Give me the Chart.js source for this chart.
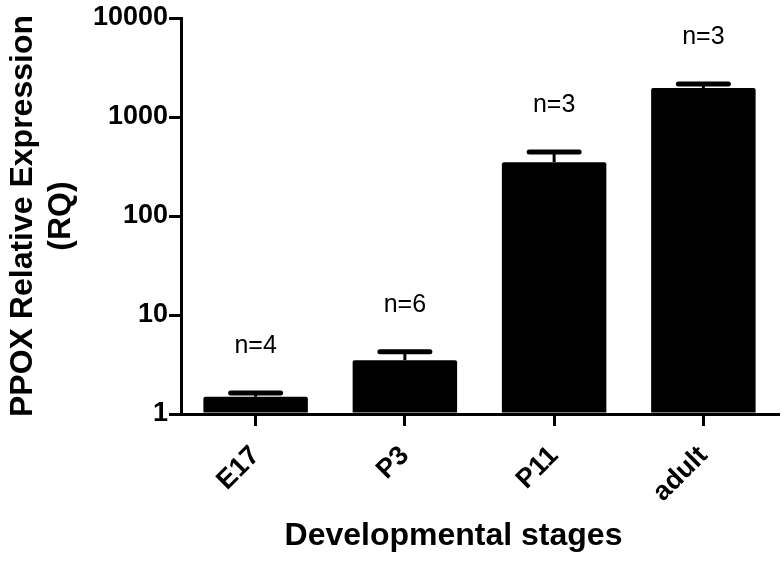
<!DOCTYPE html>
<html>
<head>
<meta charset="utf-8">
<script src="https://cdn.jsdelivr.net/npm/chart.js@4"></script>
<style>
  body { margin: 0; background: #fff; }
  #wrap { width: 784px; height: 561px; }
</style>
</head>
<body>
<div id="wrap"><canvas id="rq" width="784" height="561"></canvas></div>
<script>
const stages = ['E17', 'P3', 'P11', 'adult'];
const rq = [1.49, 3.5, 350, 1960];
const rqUpper = [1.63, 4.25, 443, 2150];
const nLabels = ['n=4', 'n=6', 'n=3', 'n=3'];
const yTicks = [1, 10, 100, 1000, 10000];
const xTitle = 'Developmental stages';

const font = "'Liberation Sans', Arial, sans-serif";

// error bars, n= labels and the x title (sits left of centre in the original)
const extras = {
  id: 'extras',
  afterDatasetsDraw(chart) {
    const ctx = chart.ctx;
    const y = chart.scales.y;
    const bars = chart.getDatasetMeta(0).data;
    ctx.save();
    ctx.strokeStyle = '#000';
    ctx.fillStyle = '#000';
    bars.forEach((bar, i) => {
      const yErr = y.getPixelForValue(rqUpper[i]);
      ctx.lineWidth = 3;
      ctx.lineCap = 'butt';
      ctx.beginPath();
      ctx.moveTo(bar.x, bar.y);
      ctx.lineTo(bar.x, yErr);
      ctx.stroke();
      ctx.lineWidth = 5;
      ctx.lineCap = 'round';
      ctx.beginPath();
      ctx.moveTo(bar.x - 25, yErr);
      ctx.lineTo(bar.x + 25, yErr);
      ctx.stroke();
      ctx.font = '25px ' + font;
      ctx.textAlign = 'center';
      ctx.textBaseline = 'middle';
      ctx.fillText(nLabels[i], bar.x, yErr - 47);
    });
    const area = chart.chartArea;
    ctx.font = 'bold 32px ' + font;
    ctx.textAlign = 'center';
    ctx.textBaseline = 'middle';
    ctx.fillText(xTitle, (area.left + area.right) / 2 - 26, 536);
    ctx.restore();
  }
};

const chart = new Chart(document.querySelector('#rq'), {
  type: 'bar',
  data: {
    labels: stages,
    datasets: [{
      data: rq,
      base: 1,
      backgroundColor: '#000',
      borderWidth: 0,
      borderRadius: 2,
      borderSkipped: 'bottom',
      barPercentage: 0.7,
      categoryPercentage: 1
    }]
  },
  options: {
    responsive: false,
    animation: false,
    layout: { padding: { top: 18, right: 6, left: 0, bottom: 0 } },
    plugins: { legend: { display: false }, tooltip: { enabled: false } },
    scales: {
      x: {
        grid: { display: true, drawOnChartArea: false, offset: false, color: '#000', lineWidth: 3, tickLength: 12 },
        border: { display: true, color: '#000', width: 3 },
        ticks: { color: '#000', font: { family: font, size: 27, weight: 'bold' }, minRotation: 45, maxRotation: 45, padding: 14 },
        afterFit(scale) { scale.height = 147; }
      },
      y: {
        type: 'logarithmic',
        min: 1,
        max: 10000,
        afterBuildTicks(scale) { scale.ticks = yTicks.map(v => ({ value: v })); },
        grid: { display: true, drawOnChartArea: false, color: '#000', lineWidth: 3, tickLength: 12 },
        border: { display: true, color: '#000', width: 3 },
        ticks: { color: '#000', font: { family: font, size: 27, weight: 'bold' }, padding: 1, callback: v => String(v) },
        title: { display: true, text: ['PPOX Relative Expression', '(RQ)'], color: '#000', font: { family: font, size: 32, weight: 'bold' }, padding: { top: 4, bottom: 0 } },
        afterFit(scale) { scale.width = 181; }
      }
    }
  },
  plugins: [extras]
});
</script>
</body>
</html>
